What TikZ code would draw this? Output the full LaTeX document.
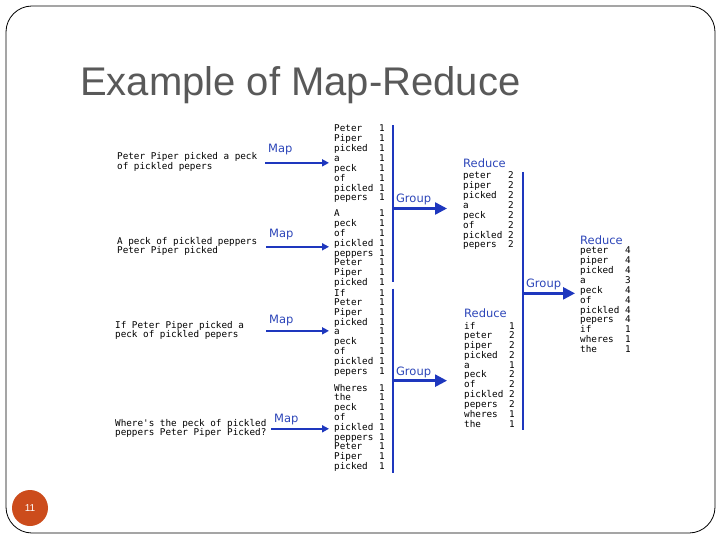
\documentclass[tikz,border=0pt]{standalone}
\usepackage{fontspec}
\setmainfont{Liberation Sans}
\newfontfamily\kvmono{DejaVu Sans Mono}
\newfontfamily\kvlabel{DejaVu Sans}
\usetikzlibrary{arrows.meta,positioning}
\definecolor{mrblue}{RGB}{30,55,190}
\definecolor{labelblue}{RGB}{45,70,185}
\definecolor{titlegray}{RGB}{89,89,89}
\definecolor{numorange}{RGB}{204,76,28}
\newcommand{\kvfont}{\kvmono\fontsize{9.3}{9.4}\selectfont}
\newcommand{\kvtab}[1]{\begin{tabular}[t]{@{}p{4.82em}@{}l@{}}#1\end{tabular}}
\newcommand{\sentlines}[1]{\begin{tabular}[t]{@{}l@{}}#1\end{tabular}}

\begin{document}
\begin{tikzpicture}[x=1pt, y=-1pt,
    sentence/.style={anchor=base west, inner sep=0pt, font=\kvfont, text=black},
    kvlist/.style={anchor=base west, inner sep=0pt, font=\kvfont, text=black},
    bluelabel/.style={inner sep=0pt, font=\kvlabel\fontsize{11.5}{13}\selectfont, text=labelblue},
    maparrow/.style={-{Triangle[length=7pt,width=7pt]}, line width=2.2pt, mrblue, shorten >=5pt},
    bar/.style={line width=2pt, mrblue},
    grouparrow/.style={-{Triangle[length=12pt,width=12pt]}, line width=2.5pt, mrblue}]
    \useasboundingbox (0,0) rectangle (720,540);
    \fill[white] (0,0) rectangle (720,540);

    % Slide frame, title and page number
    \draw[line width=0.8pt, rounded corners=26pt] (6,6) rectangle (715,533);
    \node[anchor=base west, inner sep=0pt, text=titlegray, font=\fontsize{40}{48}\selectfont] (title) at (80,96) {Example of Map-Reduce};
    \node[circle, fill=numorange, text=white, minimum size=36pt, inner sep=0pt, font=\fontsize{10}{12}\selectfont] (pagenum) at (30,508) {11};

    % Input lines
    \node[sentence] (s1) at (117,160) {\sentlines{Peter Piper picked a peck\\of pickled pepers}};
    \node[sentence] (s2) at (117,244) {\sentlines{A peck of pickled peppers\\Peter Piper picked}};
    \node[sentence] (s3) at (115,328) {\sentlines{If Peter Piper picked a\\peck of pickled pepers}};
    \node[sentence] (s4) at (115,426) {\sentlines{Where's the peck of pickled\\peppers Peter Piper Picked?}};

    % Map output
    \node[kvlist] (k1) at (334,132) {\kvtab{Peter&1\\Piper&1\\picked&1\\a&1\\peck&1\\of&1\\pickled&1\\pepers&1}};
    \node[kvlist] (k2) at (334,217) {\kvtab{A&1\\peck&1\\of&1\\pickled&1\\peppers&1\\Peter&1\\Piper&1\\picked&1}};
    \node[kvlist] (k3) at (334,296) {\kvtab{If&1\\Peter&1\\Piper&1\\picked&1\\a&1\\peck&1\\of&1\\pickled&1\\pepers&1}};
    \node[kvlist] (k4) at (334,391) {\kvtab{Wheres&1\\the&1\\peck&1\\of&1\\pickled&1\\peppers&1\\Peter&1\\Piper&1\\picked&1}};

    % Map steps
    \node[bluelabel, anchor=base west] (m1) at (268,153) {Map};
    \node[bluelabel, anchor=base west] (m2) at (269,237) {Map};
    \node[bluelabel, anchor=base west] (m3) at (269,323) {Map};
    \node[bluelabel, anchor=base west] (m4) at (274,422) {Map};
    \draw[maparrow] ([xshift=-3pt]m1.west |- s1.east) -- (s1.east -| k1.west);
    \draw[maparrow] ([xshift=-3pt]m2.west |- s2.east) -- (s2.east -| k2.west);
    \draw[maparrow] ([xshift=-3pt]m3.west |- s3.east) -- (s3.east -| k3.west);
    \draw[maparrow] ([xshift=-3pt]m4.west |- s4.east) -- (s4.east -| k4.west);

    % First reduce
    \node[kvlist] (r1) at (463,179) {\kvtab{peter&2\\piper&2\\picked&2\\a&2\\peck&2\\of&2\\pickled&2\\pepers&2}};
    \node[kvlist] (r2) at (464,329) {\kvtab{if&1\\peter&2\\piper&2\\picked&2\\a&1\\peck&2\\of&2\\pickled&2\\pepers&2\\wheres&1\\the&1}};
    \node[bluelabel, anchor=base west] (rl1) at ([yshift=11pt]r1.base west) {Reduce};
    \node[bluelabel, anchor=base west] (rl2) at ([yshift=12pt]r2.base west) {Reduce};

    % Group into first reduce
    \draw[bar, shorten >=7pt] ([xshift=8pt]k1.north east) -- ([xshift=8pt]k1.north east |- k2.south) coordinate[pos=0.51] (g1);
    \draw[bar] ([xshift=8pt]k3.north east) -- ([xshift=8pt]k3.north east |- k4.south) coordinate[pos=0.5] (g2);
    \draw[grouparrow, shorten >=16pt] (g1) -- (g1 -| r1.west) node[pos=0, bluelabel, anchor=south west, inner sep=2pt] (gl1) {Group};
    \draw[grouparrow, shorten >=17pt] (g2) -- (g2 -| r2.west) node[pos=0, bluelabel, anchor=south west, inner sep=2pt] (gl2) {Group};

    % Final reduce
    \node[kvlist] (f) at (580,254) {\kvtab{peter&4\\piper&4\\picked&4\\a&3\\peck&4\\of&4\\pickled&4\\pepers&4\\if&1\\wheres&1\\the&1}};
    \node[bluelabel, anchor=base west] (rl3) at ([yshift=10pt]f.base west) {Reduce};
    \draw[bar] ([xshift=9pt]r1.north east) -- ([xshift=9pt]r1.north east |- r2.south) coordinate[pos=0.47] (g3);
    \draw[grouparrow, shorten >=5pt] (g3) -- (g3 -| f.west) node[pos=0, bluelabel, anchor=south west, inner sep=2pt] (gl3) {Group};
\end{tikzpicture}
\end{document}
